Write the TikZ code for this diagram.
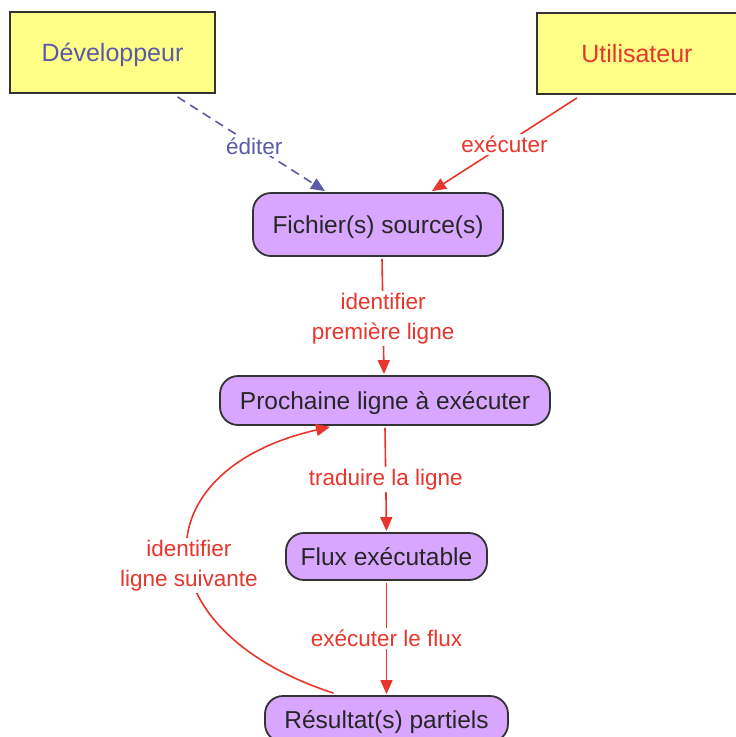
\documentclass[tikz,border=0pt]{standalone}
\usepackage{fontspec}
\setmainfont{Liberation Sans}
\usetikzlibrary{arrows.meta,calc}
\definecolor{boxyellow}{HTML}{FFFF88}
\definecolor{boxviolet}{HTML}{D9A6FF}
\definecolor{edgegray}{HTML}{333333}
\definecolor{myred}{HTML}{E8362C}
\definecolor{myblue}{HTML}{5A5AA6}
\tikzset{
  actor/.style={draw=edgegray, line width=1.8pt, fill=boxyellow, minimum width=205pt, minimum height=81pt, inner sep=0pt, text height=18pt, text depth=0pt, font=\fontsize{25}{30}\selectfont},
  stepbox/.style={draw=edgegray, line width=1.8pt, fill=boxviolet, rounded corners=18pt, inner sep=0pt, text height=18pt, text depth=0pt, text=black!85, font=\fontsize{24.5}{30}\selectfont},
  redarrow/.style={draw=myred, line width=1.6pt, -{Triangle[length=14pt,width=12pt]}},
  bluearrow/.style={draw=myblue, line width=1.6pt, dash pattern=on 9pt off 6pt, -{Triangle[length=14pt,width=12pt]}},
  lab/.style={fill=white, inner sep=2pt, align=center, font=\fontsize{22.5}{30}\selectfont},
}
\begin{document}
\begin{tikzpicture}[x=1pt,y=-1pt]
\useasboundingbox (0,0) rectangle (736,737);
\node[actor, text=myblue] (dev) at (112.5,52.5) {Développeur};
\node[actor, text=myred, minimum width=200pt] (usr) at (637,53.5) {Utilisateur};
\node[stepbox, minimum width=250pt, minimum height=63pt] (fich) at (378,224.5) {Fichier(s) source(s)};
\node[stepbox, minimum width=330pt, minimum height=49pt] (proch) at (385,400.5) {Prochaine ligne à exécuter};
\node[stepbox, minimum width=201pt, minimum height=47pt] (flux) at (386.5,556.5) {Flux exécutable};
\node[stepbox, minimum width=243pt, minimum height=46pt] (res) at (386.5,719) {Résultat(s) partiels};

\draw[bluearrow] ($(dev.south)+(65,3)$) -- node[lab, text=myblue, pos=0.52] (le) {éditer} ($(fich.north)+(-53,-1)$);
\draw[redarrow] ($(usr.south)+(-60,3)$) -- node[lab, text=myred, pos=0.5] (lx) {exécuter} ($(fich.north)+(54,-1)$);
\draw[redarrow] ($(fich.south)+(4,2)$) -- node[lab, text=myred, pos=0.52] (l1) {identifier\\première ligne} ($(proch.north)+(-1,-1)$);
\draw[redarrow] ($(proch.south)+(0,2)$) -- node[lab, text=myred] (l2) {traduire la ligne} ($(flux.north)+(0,-1)$);
\draw[redarrow] ($(flux.south)+(0,2)$) -- node[lab, text=myred] (l3) {exécuter le flux} ($(res.north)+(0,-1)$);
\draw[redarrow] ($(res.north)+(-53,-2)$) .. controls (140,630) and (140,470) .. node[lab, text=myred, pos=0.46] (l4) {identifier\\ligne suivante} ($(proch.south)+(-55,1)$);
\end{tikzpicture}
\end{document}
